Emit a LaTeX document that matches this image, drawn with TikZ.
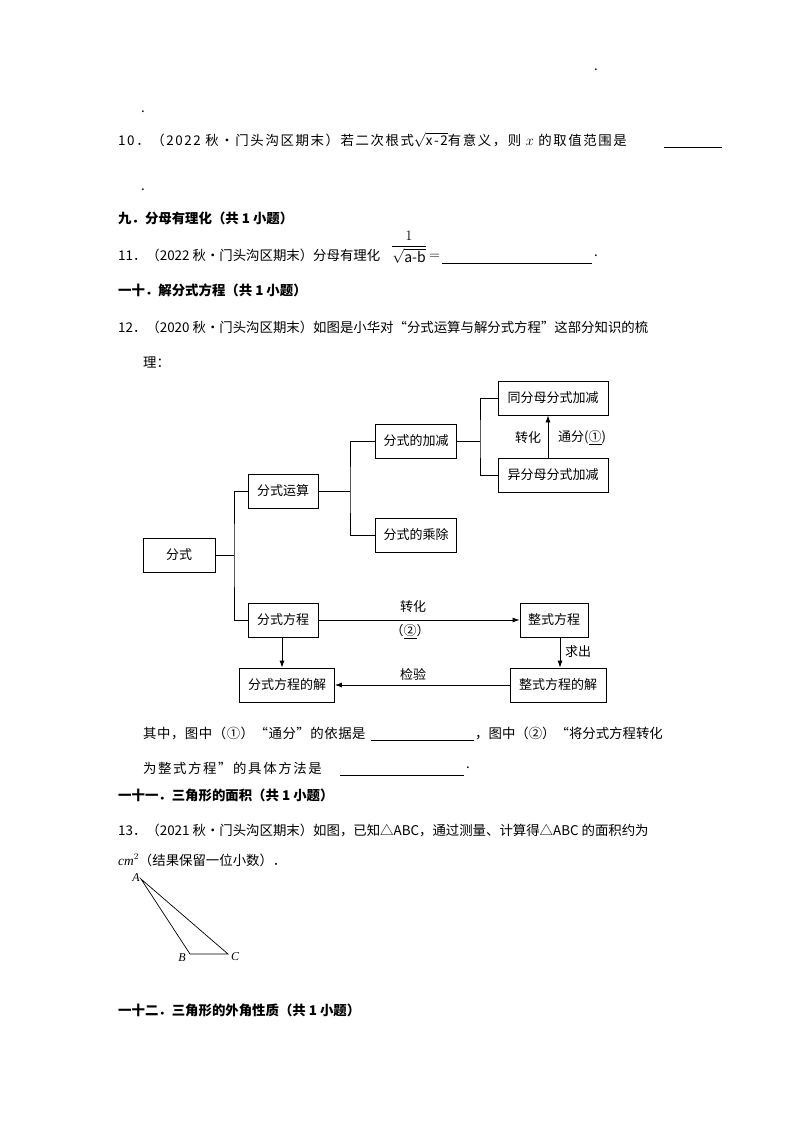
\documentclass[tikz,border=0pt]{standalone}
\usepackage{amsmath}
\usepackage{fontspec}
\setmainfont{Noto Sans CJK SC}
\newfontfamily\ser{Liberation Serif}
\usetikzlibrary{arrows.meta}
\begin{document}
\begin{tikzpicture}[x=1pt,y=-1pt,
  box/.style={draw,line width=0.8pt,minimum height=34pt,inner sep=2pt,font=\fontsize{13}{13}\selectfont},
  ln/.style={line width=0.8pt},
  arr/.style={line width=0.8pt,-{Latex[length=7pt,width=5pt]}},
  txt/.style={anchor=west,inner sep=0pt,font=\fontsize{13.4}{14}\selectfont},
  hd/.style={anchor=west,inner sep=0pt,font=\fontsize{13.4}{14}\selectfont\bfseries},
  lab/.style={inner sep=1pt,font=\fontsize{13}{13}\selectfont}]
\useasboundingbox (0,0) rectangle (800,1132);
\fill[white] (0,0) rectangle (800,1132);
\node[txt] (d0) at (594,70) {.};
\node[txt] (d1) at (141,112) {.};
\node[txt] (q10) at (118,140) {\addfontfeature{LetterSpace=12}10．（2022 秋•门头沟区期末）若二次根式$\sqrt{\text{x-2}}$有意义，则 $x$ 的取值范围是};
\draw[ln] (664,147) -- (722,147);
\node[txt] (d2) at (141,190) {.};
\node[hd] (h9) at (118,218) {九．分母有理化（共 1 小题）};
\node[txt] (q11) at (118,255) {11．（2022 秋•门头沟区期末）分母有理化};
\node[inner sep=0pt,font=\fontsize{14}{14}\selectfont] (fr) at (409,247) {$\dfrac{1}{\sqrt{\text{a-b}}}$};
\node[txt] (eq) at (429,257) {$=$};
\draw[ln] (442,263) -- (592,263);
\node[txt] (dot11) at (594,256) {.};
\node[hd] (h10) at (118,290) {一十．解分式方程（共 1 小题）};
\node[txt] (q12) at (118,327) {12．（2020 秋•门头沟区期末）如图是小华对“分式运算与解分式方程”这部分知识的梳};
\node[txt] (q12b) at (143,362) {理：};

\node[box,minimum width=72pt] (fs) at (179,555) {分式};
\node[box,minimum width=70pt] (ys) at (283,491) {分式运算};
\node[box,minimum width=81pt] (jj) at (416,441) {分式的加减};
\node[box,minimum width=81pt] (cc) at (416,535) {分式的乘除};
\node[box,minimum width=110pt] (tf) at (553,398) {同分母分式加减};
\node[box,minimum width=110pt] (yf) at (553,475) {异分母分式加减};
\node[box,minimum width=70pt] (fc) at (283,620) {分式方程};
\node[box,minimum width=68pt] (zc) at (554,620) {整式方程};
\node[box,minimum width=95pt] (fj) at (287,685) {分式方程的解};
\node[box,minimum width=96pt] (zj) at (558,685) {整式方程的解};

\coordinate (t1) at (234,555);
\draw[ln] (fs.east) -- (t1);
\draw[ln] (ys.west) -| (t1) |- (fc.west);
\coordinate (t2) at (350,491);
\draw[ln] (ys.east) -- (t2);
\draw[ln] (jj.west) -| (t2) |- (cc.west);
\coordinate (t3) at (480,441);
\draw[ln] (jj.east) -- (t3);
\draw[ln] (tf.west) -| (t3) |- (yf.west);
\draw[arr] (yf.north -| 548,0) -- (tf.south -| 548,0);
\node[lab] (zh1) at (528,438) {转化};
\node[lab] (tfl) at (582,438) {通分(\underline{①})};
\draw[arr] (fc.east) -- (zc.west);
\node[lab] (zh2) at (413,607) {转化};
\node[lab] (c2) at (410,632) {（\underline{②}）};
\draw[arr] (zc.south -| 560,0) -- (zj.north -| 560,0);
\node[lab] (qc) at (578,652) {求出};
\draw[arr] (zj.west) -- (fj.east);
\node[lab] (jy) at (413,674) {检验};
\draw[arr] (fc.south -| 282,0) -- (fj.north -| 282,0);

\node[txt] (qz) at (143,733) {\addfontfeature{LetterSpace=4}其中，图中（①）“通分”的依据是};
\draw[ln] (371,740) -- (474,740);
\node[txt] (qz2) at (475,733) {，图中（②）“将分式方程转化};
\node[txt] (qz3) at (143,768) {\addfontfeature{LetterSpace=12}为整式方程”的具体方法是};
\draw[ln] (340,775) -- (464,775);
\node[txt] (dz) at (466,768) {.};
\node[hd] (h11) at (118,795) {一十一．三角形的面积（共 1 小题）};
\node[txt] (q13) at (118,830) {13．（2021 秋•门头沟区期末）如图，已知△\textit{ABC}，通过测量、计算得△\textit{ABC} 的面积约为};
\node[txt] (cm) at (118,860) {{\ser\itshape cm}$^2$（结果保留一位小数）．};

\coordinate (A) at (141,879);
\coordinate (B) at (190,954);
\coordinate (C) at (228,954);
\draw[line width=0.7pt] (A) -- (B) -- (C) -- cycle;
\node[font=\ser\itshape\fontsize{12}{12}\selectfont,inner sep=0pt] (la) at (136,878) {A};
\node[font=\ser\itshape\fontsize{12}{12}\selectfont,inner sep=0pt] (lb) at (182,958) {B};
\node[font=\ser\itshape\fontsize{12}{12}\selectfont,inner sep=0pt] (lc) at (235,957) {C};
\node[hd] (h12) at (118,1010) {一十二．三角形的外角性质（共 1 小题）};
\end{tikzpicture}
\end{document}
